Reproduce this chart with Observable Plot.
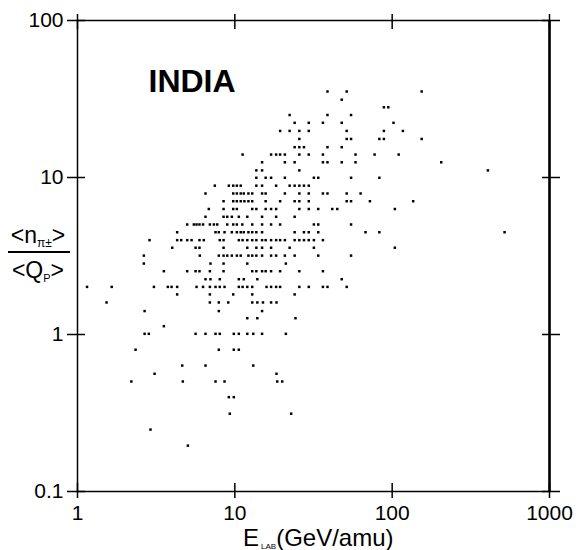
<!DOCTYPE html>
<html><head><meta charset="utf-8">
<script src="https://cdn.jsdelivr.net/npm/d3@7"></script>
<script src="https://cdn.jsdelivr.net/npm/@observablehq/plot@0.6"></script>
<style>body{margin:0;background:#fff;font-family:"Liberation Sans",Arial,sans-serif}</style>
</head><body><div id="chart"></div>
<script>
// Each row: one ratio value <n>/<Q> and the lab energies (GeV/amu) of the points on that row
const rowRatios = [35.3, 31.3, 28.0, 25.0, 22.3, 19.8, 17.6, 15.6, 14.0, 12.5, 11.1, 9.96, 8.87, 7.91, 7.06, 6.30, 5.62, 5.02, 4.48, 3.99, 3.57, 3.18, 2.83, 2.53, 2.25, 2.01, 1.80, 1.60, 1.41, 1.27, 1.13, 1.01, 0.80, 0.634, 0.562, 0.502, 0.399, 0.313, 0.248, 0.196];
const rowEnergies = [
  [38.8, 51.4, 154],
  [47.8],
  [88.6, 94.5],
  [22.3, 38.8, 54.8],
  [24.0, 29.5, 36.3, 47.8, 102],
  [19.4, 22.3, 25.7, 29.5, 51.4, 88.6, 117],
  [25.7, 51.4, 54.8, 82.9, 88.6, 154],
  [24.0, 25.7, 27.5, 38.8, 47.8],
  [11.2, 17.0, 18.3, 19.4, 20.8, 25.7, 29.5, 36.3, 58.5, 77.3, 110],
  [14.9, 20.8, 24.0, 36.3, 38.8, 47.8, 58.5, 205],
  [13.7, 14.9, 25.7, 406],
  [13.7, 15.7, 17.0, 20.8, 31.8, 33.9, 54.8, 82.9],
  [7.46, 9.16, 9.77, 10.3, 10.9, 13.7, 14.9, 18.3, 22.3, 24.0, 25.7, 27.5, 29.5],
  [6.51, 9.77, 10.3, 10.9, 11.4, 12.2, 12.9, 14.9, 15.7, 20.8, 25.7, 29.5, 36.3, 38.8, 51.4, 63.0],
  [8.48, 9.77, 10.3, 10.9, 11.5, 12.2, 12.9, 15.7, 19.4, 24.0, 25.7, 29.5, 51.4, 54.8, 72.2, 136],
  [6.83, 8.48, 9.77, 10.3, 12.9, 13.7, 15.7, 17.0, 18.3, 25.7, 29.5, 33.9, 41.6, 44.8, 104],
  [6.51, 8.48, 8.95, 9.57, 10.6, 12.0, 14.9, 18.3, 24.0],
  [4.98, 5.49, 5.71, 5.96, 6.28, 6.94, 7.36, 7.73, 8.95, 9.77, 10.3, 11.15, 12.9, 14.9, 17.0, 19.4, 31.8, 33.9, 54.8],
  [4.30, 7.54, 7.91, 8.60, 9.57, 10.3, 10.9, 11.4, 12.2, 12.9, 13.7, 14.9, 24.0, 27.5, 29.5, 33.9, 67.7, 82.9, 518],
  [2.87, 4.30, 4.56, 4.98, 5.31, 5.96, 6.35, 8.02, 8.48, 10.6, 11.2, 12.0, 12.9, 13.7, 14.9, 15.7, 17.0, 18.3, 19.4, 20.8, 24.0, 25.7, 27.5, 29.5, 31.8, 36.3],
  [4.0, 5.63, 5.96, 8.48, 12.0, 13.7, 14.9, 17.0, 22.3, 31.8, 104],
  [2.64, 5.99, 7.91, 8.48, 8.95, 9.57, 10.3, 10.9, 12.2, 12.9, 13.7, 14.9, 17.0, 18.3, 20.8, 24.0, 33.9, 54.8],
  [2.64, 7.0, 8.48, 12.0, 21.1],
  [3.54, 4.98, 5.63, 5.96, 6.94, 8.48, 12.9, 13.7, 14.9, 15.7, 17.0, 19.4, 25.7, 36.3],
  [6.51, 7.0, 8.02, 10.6, 11.4, 13.9, 47.8],
  [1.15, 1.65, 3.06, 3.75, 3.96, 4.30, 5.71, 6.28, 6.94, 7.54, 8.02, 8.60, 10.6, 11.2, 12.0, 12.9, 15.9, 17.0, 18.3, 19.4, 25.7, 29.5, 36.3, 38.8, 51.4],
  [4.30, 6.94, 9.77, 12.9, 24.0],
  [1.53, 6.94, 7.91, 9.08, 12.9, 13.9, 15.1, 17.0, 18.4],
  [2.67, 7.91, 14.9],
  [12.0, 13.9, 24.3],
  [3.54],
  [2.67, 2.84, 5.63, 6.51, 7.54, 8.02, 9.85, 10.6, 12.0, 13.1, 14.9, 21.1],
  [2.34, 7.91, 9.85, 10.6],
  [4.63, 6.51, 13.1],
  [3.09, 18.4],
  [2.20, 4.67, 7.54, 8.60, 18.6, 20.0],
  [9.16, 9.85],
  [9.29, 22.8],
  [2.91],
  [5.03]
];
const xTicks = [1, 10, 100, 1000];
const xTickLabels = ["1", "10", "100", "1000"];
const yTicks = [0.1, 1, 10, 100];
const yTickLabels = ["0.1", "1", "10", "100"];
const panelLabel = "INDIA";

const data = rowRatios.flatMap((r, i) => rowEnergies[i].map(e => ({E: e, R: r})));
const font = '"Liberation Sans", Arial, Helvetica, sans-serif';
const noText = () => "";

const chart = Plot.plot({
  width: 579, height: 550,
  marginLeft: 77, marginRight: 30, marginTop: 20, marginBottom: 59,
  style: {fontFamily: font, background: "white", color: "black", overflow: "visible"},
  x: {type: "log", domain: [1, 1000]},
  y: {type: "log", domain: [0.1, 100]},
  marks: [
    Plot.frame({stroke: "black", strokeWidth: 1.5}),
    Plot.ruleX([1000], {stroke: "black", strokeWidth: 2.5}),
    Plot.axisX(xTicks, {anchor: "bottom", tickSize: 15, dy: -8, fill: "none", tickFormat: noText, label: null, strokeWidth: 1.5}),
    Plot.axisX(xTicks, {anchor: "top", tickSize: 15, dy: 8, fill: "none", tickFormat: noText, label: null, strokeWidth: 1.5}),
    Plot.axisY(yTicks, {anchor: "left", tickSize: 18, dx: 8, fill: "none", tickFormat: noText, label: null, strokeWidth: 1.5}),
    Plot.axisY(yTicks, {anchor: "right", tickSize: 18, dx: -8, fill: "none", tickFormat: noText, label: null, strokeWidth: 1.5}),
    Plot.axisX(xTicks, {anchor: "bottom", tickSize: 0, tickPadding: 14, fontSize: 21, fill: "black",
      tickFormat: d => xTickLabels[xTicks.indexOf(d)], label: null}),
    Plot.axisY(yTicks, {anchor: "left", tickSize: 0, tickPadding: 14, fontSize: 21, fill: "black",
      tickFormat: d => yTickLabels[yTicks.indexOf(d)], label: null}),
    Plot.dot(data, {x: "E", y: "R", symbol: "square", r: 1.4, fill: "black", stroke: "none"}),
    Plot.text([panelLabel], {frameAnchor: "top-left", dx: 71, dy: 49, lineAnchor: "top", textAnchor: "start",
      fontSize: 32, fontWeight: "bold", fill: "black"})
  ]
});
document.getElementById("chart").appendChild(chart);

const svg = d3.select(chart);
// y-axis label: fraction <n_pi> / <Q_P>
const num = svg.append("text").attr("x", 38).attr("y", 243).attr("text-anchor", "middle")
  .attr("font-size", 23).attr("font-family", font).attr("fill", "black");
num.append("tspan").text("<n");
num.append("tspan").attr("font-size", 12).attr("dy", 4).text("π±");
num.append("tspan").attr("dy", -4).text(">");
svg.append("line").attr("x1", 8).attr("x2", 70).attr("y1", 252).attr("y2", 252)
  .attr("stroke", "black").attr("stroke-width", 2);
const den = svg.append("text").attr("x", 38).attr("y", 278).attr("text-anchor", "middle")
  .attr("font-size", 23).attr("font-family", font).attr("fill", "black");
den.append("tspan").text("<Q");
den.append("tspan").attr("font-size", 11).attr("dy", 4).text("P");
den.append("tspan").attr("dy", -4).text(">");
// x-axis label E_LAB(GeV/amu)
const xl = svg.append("text").attr("x", 243).attr("y", 546).attr("text-anchor", "start")
  .attr("font-size", 24).attr("font-family", font).attr("fill", "black");
xl.append("tspan").text("E");
xl.append("tspan").attr("font-size", 8).attr("dy", 3).attr("dx", 2).text("LAB");
xl.append("tspan").attr("dy", -3).text("(GeV/amu)");
</script>
</body></html>
